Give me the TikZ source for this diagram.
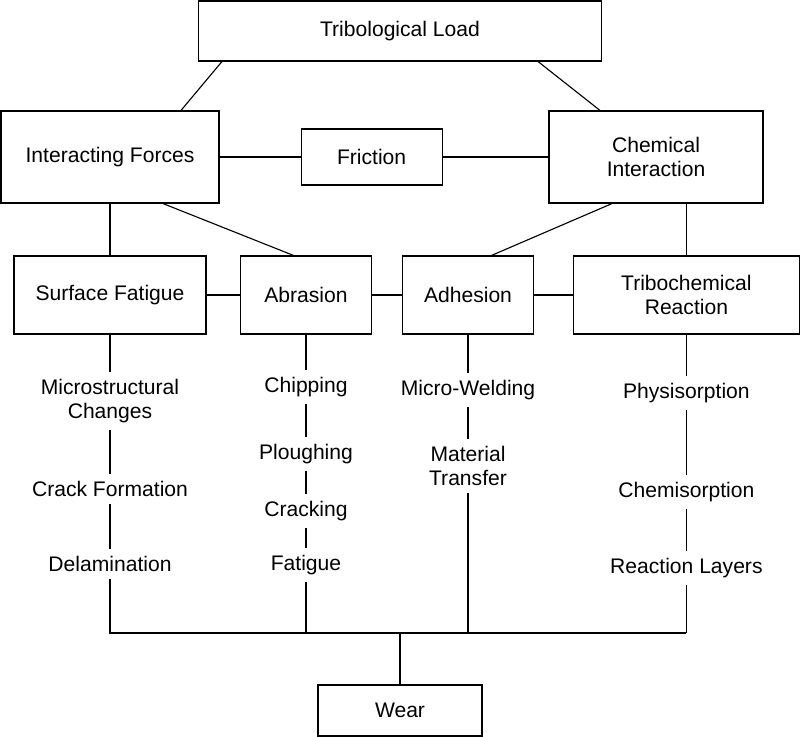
\documentclass[tikz,border=0pt]{standalone}
\usepackage{fontspec}
\setmainfont{Liberation Sans}

\begin{document}
\begin{tikzpicture}[every node/.style={font=\fontsize{15}{17.5}\selectfont}]
        % Define block styles
        \tikzstyle{block} = [rectangle, draw, line width=0.8pt, align=center, inner sep=0pt]
        \tikzstyle{item} = [align=center, inner sep=5pt]
        \tikzstyle{line} = [line width=0.8pt]

        \useasboundingbox (0,0) rectangle (20,-18.425);

        % Load, forces and chemistry
        \node (load) [block, minimum width=10.075cm, minimum height=1.5cm] at (10,-0.775) {Tribological Load};
        \node (forces) [block, minimum width=5.45cm, minimum height=2.3cm] at (2.75,-3.925) {Interacting Forces};
        \node (friction) [block, minimum width=3.525cm, minimum height=1.4cm] at (9.29,-3.925) {Friction};
        \node (chem) [block, minimum width=5.35cm, minimum height=2.3cm] at (16.4,-3.925) {Chemical\\Interaction};

        % Wear mechanisms
        \node (fatigue) [block, minimum width=4.8cm, minimum height=1.95cm] at (2.75,-7.375) {Surface Fatigue};
        \node (abrasion) [block, minimum width=3.275cm, minimum height=1.95cm] at (7.65,-7.375) {Abrasion};
        \node (adhesion) [block, minimum width=3.275cm, minimum height=1.95cm] at (11.7,-7.375) {Adhesion};
        \node (tribochem) [block, minimum width=5.65cm, minimum height=1.95cm] at (17.16,-7.375) {Tribochemical\\Reaction};

        % Effects
        \node (micro) [item] at (2.75,-10.025) {Microstructural\\Changes};
        \node (crack) [item] at (2.75,-12.225) {Crack Formation};
        \node (delam) [item] at (2.75,-14.1) {Delamination};
        \node (chip) [item] at (7.65,-9.675) {Chipping};
        \node (plough) [item] at (7.65,-11.35) {Ploughing};
        \node (cracking) [item] at (7.65,-12.775) {Cracking};
        \node (fatiguetxt) [item] at (7.65,-14.125) {Fatigue};
        \node (weld) [item] at (11.7,-9.75) {Micro-Welding};
        \node (transfer) [item] at (11.7,-11.65) {Material\\Transfer};
        \node (physi) [item] at (17.16,-9.825) {Physisorption};
        \node (chemi) [item] at (17.16,-12.3) {Chemisorption};
        \node (layers) [item] at (17.16,-14.2) {Reaction Layers};

        \coordinate (bus) at (10,-15.825);
        \node (wear) [block, minimum width=4.1cm, minimum height=1.275cm] at (10,-17.7625) {Wear};

        % Connections
        \draw [line] ([xshift=0.6cm]load.south west) -- ([xshift=1.775cm]forces.north);
        \draw [line] ([xshift=-1.6cm]load.south east) -- ([xshift=-1.4cm]chem.north);
        \draw [line] (forces) -- (friction) -- (chem);
        \draw [line] (forces) -- (fatigue);
        \draw [line] ([xshift=1.325cm]forces.south) -- ([xshift=-0.3125cm]abrasion.north);
        \draw [line] ([xshift=-1.1cm]chem.south) -- ([xshift=0.5875cm]adhesion.north);
        \draw [line] (tribochem.north) -- (tribochem.north |- chem.south);
        \draw [line] (fatigue) -- (abrasion) -- (adhesion) -- (tribochem);

        \draw [line] (fatigue) -- (micro) -- (crack) -- (delam) -- (delam |- bus) -- (layers |- bus);
        \draw [line] (abrasion) -- (chip) -- (plough) -- (cracking) -- (fatiguetxt) -- (fatiguetxt |- bus);
        \draw [line] (adhesion) -- (weld) -- (transfer) -- (transfer |- bus);
        \draw [line] (tribochem) -- (physi) -- (chemi) -- (layers) -- (layers |- bus);
        \draw [line] (bus) -- (wear);
    \end{tikzpicture}
\end{document}
